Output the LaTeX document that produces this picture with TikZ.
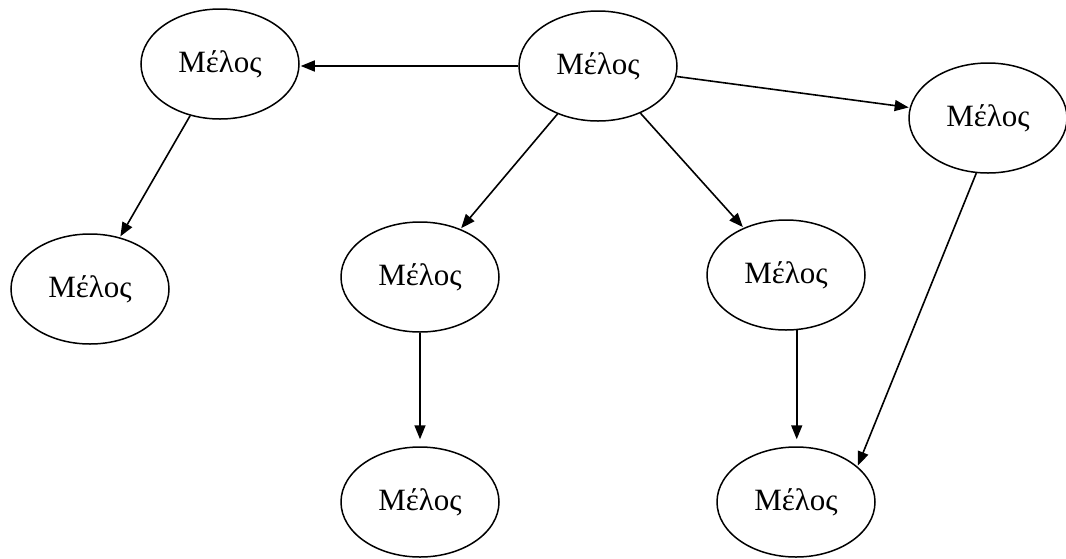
\documentclass[tikz,border=0pt]{standalone}
\usepackage{fontspec}
\setmainfont{Liberation Serif}
\usetikzlibrary{arrows.meta,shapes.geometric}

\begin{document}
\begin{tikzpicture}[x=1pt,y=-1pt,->,>={Triangle[length=14pt,width=11pt]},shorten >=1pt,
                    line width=1.6pt, member/.style={ellipse, draw=black, line width=1.5pt,
                    minimum width=158pt, minimum height=110pt, inner sep=0pt,
                    font=\fontsize{31}{36}\selectfont}]
  \useasboundingbox (0,0) rectangle (1066,558);

  \node[member] (T)  at (598,66)  {Μέλος};
  \node[member] (L1) at (220,64)  {Μέλος};
  \node[member] (R)  at (988,118) {Μέλος};
  \node[member] (L2) at (90,289)  {Μέλος};
  \node[member] (M1) at (420,277) {Μέλος};
  \node[member] (M2) at (786,275) {Μέλος};
  \node[member] (B1) at (420,502) {Μέλος};
  \node[member] (B2) at (796,502) {Μέλος};

  \draw (T.west) -- (T.west -| L1.east);
  \draw (T) -- (R);
  \draw (T) -- (M1);
  \draw (T) -- (M2);
  \draw (L1) -- (L2);
  \draw[shorten >=7pt] (M1.south) -- (M1.south |- B1.north);
  \draw[shorten >=7pt] (M2.-79) -- (M2.-79 |- B2.north);
  \draw (R.258) -- (B2.30);
\end{tikzpicture}
\end{document}
